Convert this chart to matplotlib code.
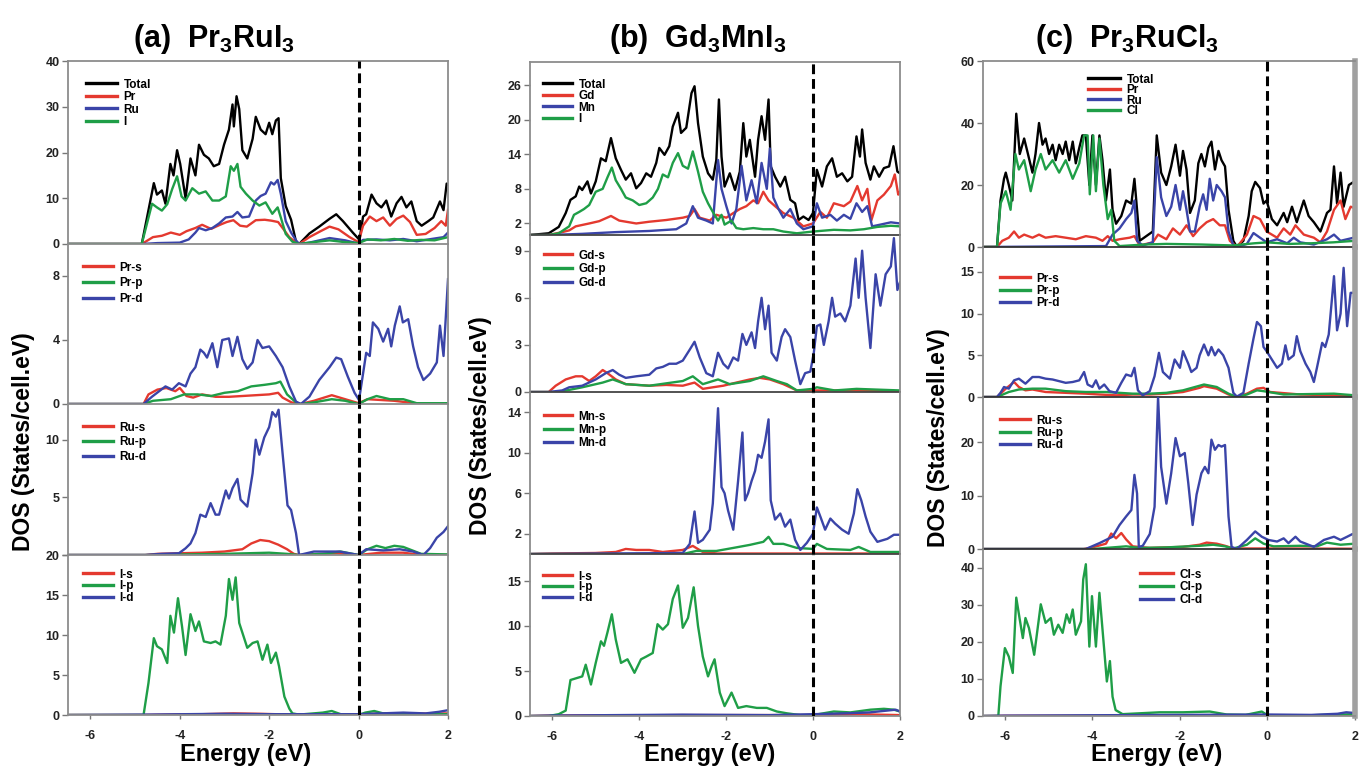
import matplotlib
matplotlib.use("Agg")
import matplotlib.pyplot as plt

plt.rcParams['font.family'] = ['Liberation Sans', 'DejaVu Sans']
plt.rcParams['font.weight'] = 'bold'
plt.rcParams['axes.unicode_minus'] = False
plt.rcParams['mathtext.fontset'] = 'custom'
plt.rcParams['mathtext.rm'] = 'Liberation Sans:bold'
plt.rcParams['mathtext.it'] = 'Liberation Sans:bold'
plt.rcParams['mathtext.bf'] = 'Liberation Sans:bold'

RED, GREEN, BLUE, BLACK = '#e4392f', '#1f9e47', '#3a44a8', '#000000'

# ---------------- (a) Pr3RuI3 : (energy eV, DOS) ----------------
a_total = [(-6.5, 0), (-4.85, 0), (-4.58, 13.3), (-4.51, 10.8), (-4.40, 11.7), (-4.32, 8.8), (-4.21, 17.5),
           (-4.14, 15), (-4.06, 20.5), (-3.99, 17.5), (-3.87, 10), (-3.76, 18.7), (-3.65, 15), (-3.57, 21.7),
           (-3.46, 19.5), (-3.35, 18.7), (-3.24, 17), (-3.12, 17.5), (-3.01, 21.7), (-2.90, 25), (-2.82, 30.5),
           (-2.79, 25.7), (-2.73, 32.3), (-2.67, 29.5), (-2.60, 20.5), (-2.49, 18.7), (-2.37, 23), (-2.30, 27.8),
           (-2.19, 25), (-2.08, 24), (-2.00, 26.5), (-1.93, 24), (-1.85, 27), (-1.79, 27.5), (-1.74, 14.4),
           (-1.63, 8.3), (-1.51, 5.3), (-1.40, 0.5), (-1.33, 0), (-1.10, 2.3), (-0.88, 3.8), (-0.65, 5.5),
           (-0.50, 6.5), (-0.35, 5), (-0.13, 2.5), (0.02, 0.9), (0.10, 6), (0.17, 6.5), (0.29, 10.8), (0.40, 8.9),
           (0.51, 8), (0.62, 9.5), (0.73, 6), (0.85, 8.9), (0.96, 10.3), (1.07, 8), (1.18, 9.3), (1.30, 5),
           (1.41, 4), (1.56, 5), (1.67, 5.8), (1.82, 9.3), (1.90, 7.4), (1.97, 13.2), (2.0, 13)]
a_pr = [(-6.5, 0), (-4.85, 0), (-4.6, 1.5), (-4.4, 1.8), (-4.2, 2.5), (-4.0, 2.0), (-3.85, 2.8), (-3.65, 3.5),
        (-3.5, 4.2), (-3.3, 3.3), (-3.1, 4.2), (-2.95, 4.8), (-2.8, 5.2), (-2.65, 4.0), (-2.5, 3.8), (-2.3, 5.2),
        (-2.1, 5.3), (-1.95, 5.1), (-1.8, 4.8), (-1.7, 3.5), (-1.55, 1.5), (-1.4, 0.3), (-1.33, 0), (-1.1, 1.5),
        (-0.85, 2.8), (-0.65, 3.8), (-0.45, 3.2), (-0.2, 1.5), (0.0, 0.4), (0.1, 4.0), (0.25, 6.0), (0.4, 5.0),
        (0.55, 5.8), (0.7, 4.0), (0.85, 5.5), (1.0, 6.2), (1.15, 4.8), (1.3, 2.0), (1.5, 2.2), (1.7, 3.5),
        (1.85, 5.0), (1.95, 4.0), (2.0, 7.5)]
a_ru = [(-6.5, 0), (-4.85, 0), (-4.5, 0.2), (-4.0, 0.3), (-3.8, 1.0), (-3.65, 2.5), (-3.57, 3.5), (-3.42, 3.0),
        (-3.27, 3.5), (-3.12, 4.5), (-2.97, 5.8), (-2.82, 6.0), (-2.71, 7.0), (-2.60, 5.8), (-2.45, 6.0),
        (-2.30, 9.5), (-2.19, 10.5), (-2.08, 11.0), (-1.96, 13.5), (-1.89, 13.0), (-1.81, 14.0), (-1.74, 11.0),
        (-1.63, 5.0), (-1.51, 2.5), (-1.40, 0.8), (-1.33, 0), (-1.1, 0.3), (-0.65, 1.3), (-0.3, 0.8), (0.0, 0.1),
        (0.1, 0.9), (0.4, 1.0), (0.7, 0.8), (1.0, 1.1), (1.3, 0.6), (1.7, 1.2), (1.9, 1.5), (2.0, 2.5)]
a_i = [(-6.5, 0), (-4.85, 0), (-4.62, 8.8), (-4.51, 8.0), (-4.40, 7.3), (-4.28, 8.7), (-4.17, 12.0), (-4.06, 14.8),
       (-3.96, 10.4), (-3.87, 9.5), (-3.72, 12.2), (-3.57, 11.0), (-3.42, 11.5), (-3.27, 9.5), (-3.12, 9.5),
       (-2.97, 10.4), (-2.86, 17.0), (-2.79, 16.0), (-2.71, 17.5), (-2.64, 12.5), (-2.52, 11.0), (-2.37, 9.5),
       (-2.22, 8.4), (-2.08, 9.1), (-1.93, 6.6), (-1.81, 8.0), (-1.74, 5.8), (-1.63, 2.2), (-1.48, 0.5),
       (-1.33, 0), (-1.1, 0.3), (-0.65, 0.8), (-0.3, 0.4), (0.0, 0.2), (0.2, 1.0), (0.5, 0.8), (0.8, 1.1),
       (1.1, 0.7), (1.4, 0.9), (1.7, 0.8), (2.0, 1.5)]

a_prs = [(-6.5, 0), (-4.81, 0), (-4.7, 0.6), (-4.5, 0.9), (-4.3, 1.0), (-4.1, 0.8), (-4.0, 1.0), (-3.85, 0.5),
         (-3.7, 0.4), (-3.5, 0.6), (-3.2, 0.45), (-2.9, 0.45), (-2.6, 0.5), (-2.3, 0.55), (-2.0, 0.6), (-1.8, 0.7),
         (-1.7, 0.4), (-1.5, 0.1), (-1.3, 0), (-1.0, 0.2), (-0.6, 0.55), (-0.3, 0.3), (0.0, 0.05), (0.2, 0.3),
         (0.5, 0.25), (0.8, 0.2), (1.1, 0.1), (1.4, 0), (2.0, 0)]
a_prp = [(-6.5, 0), (-4.81, 0), (-4.6, 0.2), (-4.2, 0.3), (-3.9, 0.6), (-3.6, 0.6), (-3.3, 0.5), (-3.0, 0.7),
         (-2.7, 0.8), (-2.4, 1.1), (-2.1, 1.2), (-1.85, 1.3), (-1.75, 1.4), (-1.6, 0.6), (-1.4, 0.1), (-1.3, 0),
         (-1.0, 0.1), (-0.6, 0.3), (-0.3, 0.2), (0.0, 0), (0.2, 0.3), (0.4, 0.5), (0.7, 0.3), (1.0, 0.3),
         (1.3, 0.05), (2.0, 0.05)]
a_prd = [(-6.5, 0), (-4.81, 0), (-4.62, 0.46), (-4.32, 1.1), (-4.17, 0.9), (-4.02, 1.3), (-3.87, 1.1), (-3.76, 1.9),
         (-3.65, 2.3), (-3.54, 3.4), (-3.46, 3.2), (-3.39, 2.9), (-3.27, 3.8), (-3.16, 2.3), (-3.05, 4.0),
         (-2.90, 4.1), (-2.82, 3.0), (-2.71, 4.2), (-2.60, 2.8), (-2.49, 2.2), (-2.37, 2.6), (-2.26, 4.0),
         (-2.15, 3.5), (-2.00, 3.6), (-1.85, 3.0), (-1.70, 2.3), (-1.55, 1.1), (-1.40, 0.15), (-1.29, 0),
         (-1.10, 0.46), (-0.88, 1.5), (-0.65, 2.3), (-0.50, 2.9), (-0.39, 2.8), (-0.24, 1.7), (-0.09, 0.7),
         (0.01, 0.25), (0.10, 1.9), (0.17, 3.2), (0.25, 3.0), (0.32, 5.1), (0.44, 4.7), (0.55, 3.9), (0.66, 4.7),
         (0.73, 3.6), (0.81, 4.9), (0.92, 6.1), (0.99, 5.1), (1.11, 5.3), (1.22, 3.6), (1.33, 2.3), (1.45, 1.5),
         (1.60, 1.9), (1.75, 2.6), (1.82, 4.9), (1.90, 3.0), (2.0, 7.8)]

a_rus = [(-6.5, 0), (-4.77, 0), (-4.5, 0.1), (-3.5, 0.2), (-3.0, 0.3), (-2.6, 0.5), (-2.4, 1.0), (-2.2, 1.3),
         (-2.0, 1.2), (-1.8, 0.9), (-1.6, 0.5), (-1.45, 0.1), (-1.33, 0), (-0.8, 0.1), (-0.5, 0.15), (0.0, 0),
         (0.5, 0.2), (1.0, 0.2), (1.3, 0.05), (2.0, 0)]
a_rup = [(-6.5, 0), (-4.77, 0), (-3.0, 0.1), (-2.0, 0.2), (-1.6, 0.1), (-1.33, 0), (-0.8, 0.1), (-0.4, 0.3),
         (0.0, 0), (0.2, 0.5), (0.4, 0.8), (0.6, 0.6), (0.8, 0.8), (1.0, 0.7), (1.2, 0.4), (1.4, 0.1), (2.0, 0.05)]
a_rud = [(-6.5, 0), (-4.77, 0), (-4.4, 0.1), (-4.02, 0.15), (-3.87, 0.58), (-3.76, 1.0), (-3.65, 1.9), (-3.54, 3.5),
         (-3.42, 3.3), (-3.31, 4.5), (-3.20, 3.5), (-3.12, 3.5), (-2.97, 5.6), (-2.90, 4.9), (-2.82, 5.8),
         (-2.71, 6.6), (-2.64, 4.8), (-2.49, 4.2), (-2.37, 7.1), (-2.30, 10.0), (-2.22, 8.7), (-2.11, 10.2),
         (-2.00, 11.1), (-1.93, 12.4), (-1.85, 12.0), (-1.79, 12.6), (-1.70, 8.8), (-1.59, 4.3), (-1.51, 3.9),
         (-1.40, 1.9), (-1.33, 0), (-1.0, 0.3), (-0.73, 0.3), (-0.43, 0.3), (0.0, 0), (0.17, 0.5), (0.55, 0.4),
         (0.92, 0.5), (1.22, 0.3), (1.45, 0), (1.60, 0.6), (1.75, 1.5), (1.9, 2.0), (2.0, 2.5)]

a_is = [(-6.5, 0), (-4.8, 0), (-3.5, 0.1), (-2.8, 0.2), (-2.2, 0.15), (-1.5, 0.05), (0.0, 0.05), (0.5, 0.2),
        (1.0, 0.15), (2.0, 0.2)]
a_ip = [(-6.5, 0), (-4.81, 0), (-4.70, 4.0), (-4.58, 9.6), (-4.51, 8.6), (-4.40, 8.2), (-4.28, 6.5), (-4.21, 12.4),
        (-4.13, 10.3), (-4.04, 14.6), (-3.95, 11.1), (-3.87, 7.5), (-3.76, 12.6), (-3.65, 10.5), (-3.57, 11.7),
        (-3.46, 9.2), (-3.31, 9.0), (-3.20, 9.2), (-3.09, 8.8), (-2.97, 12.4), (-2.90, 17.0), (-2.82, 14.4),
        (-2.75, 17.2), (-2.67, 11.5), (-2.60, 10.3), (-2.49, 8.4), (-2.37, 9.0), (-2.26, 9.2), (-2.15, 6.9),
        (-2.04, 8.8), (-1.96, 6.5), (-1.85, 7.8), (-1.78, 6.1), (-1.66, 2.3), (-1.55, 0.8), (-1.48, 0.2),
        (-1.33, 0.05), (-0.8, 0.3), (-0.6, 0.5), (-0.4, 0.1), (0.0, 0), (0.15, 0.3), (0.35, 0.5), (0.55, 0.2),
        (0.8, 0.1), (2.0, 0.1)]
a_id = [(-6.5, 0), (-4.8, 0.05), (-3.0, 0.15), (-2.0, 0.1), (0.0, 0.1), (1.0, 0.3), (1.5, 0.2), (1.8, 0.4),
        (2.0, 0.6)]

# ---------------- (b) Gd3MnI3 ----------------
b_total = [(-6.5, 0), (-6.07, 0.3), (-5.84, 1.4), (-5.68, 3.8), (-5.57, 6.1), (-5.45, 6.7), (-5.37, 8.4),
           (-5.30, 7.8), (-5.18, 9.3), (-5.10, 7.2), (-4.99, 9.3), (-4.87, 13.3), (-4.76, 12.8), (-4.64, 16.8),
           (-4.53, 13.3), (-4.41, 11.3), (-4.30, 9.6), (-4.18, 10.7), (-4.06, 8.1), (-3.95, 9.0), (-3.83, 10.7),
           (-3.72, 10.1), (-3.60, 12.5), (-3.53, 15.1), (-3.41, 13.9), (-3.30, 15.4), (-3.22, 18.8), (-3.10, 21.2),
           (-3.03, 17.7), (-2.91, 18.6), (-2.79, 24.6), (-2.72, 25.8), (-2.64, 19.4), (-2.53, 13.6), (-2.41, 10.7),
           (-2.30, 9.6), (-2.22, 13.0), (-2.16, 23.5), (-2.10, 13.6), (-2.03, 8.4), (-1.91, 10.7), (-1.79, 7.8),
           (-1.68, 11.0), (-1.60, 19.4), (-1.53, 13.6), (-1.45, 16.5), (-1.33, 10.1), (-1.26, 16.5), (-1.18, 20.6),
           (-1.10, 16.5), (-1.02, 23.5), (-0.97, 11.9), (-0.87, 10.1), (-0.75, 8.4), (-0.64, 10.1), (-0.52, 6.1),
           (-0.41, 5.5), (-0.33, 2.6), (-0.22, 3.2), (-0.10, 2.6), (0.0, 3.8), (0.09, 11.3), (0.21, 8.4),
           (0.32, 11.9), (0.44, 13.3), (0.55, 10.1), (0.67, 10.7), (0.79, 9.3), (0.90, 10.1), (1.00, 17.1),
           (1.08, 13.6), (1.13, 18.3), (1.21, 12.5), (1.32, 9.6), (1.40, 11.9), (1.52, 10.1), (1.63, 11.6),
           (1.75, 11.9), (1.85, 15.4), (1.94, 11.0), (2.0, 10.7)]
b_gd = [(-6.5, 0), (-6.07, 0), (-5.76, 0.5), (-5.6, 0.8), (-5.45, 1.5), (-5.14, 2.0), (-4.91, 2.4), (-4.64, 3.3),
        (-4.45, 2.5), (-4.06, 2.0), (-3.76, 2.3), (-3.37, 2.6), (-2.99, 3.0), (-2.83, 3.3), (-2.72, 4.5),
        (-2.60, 3.0), (-2.37, 2.5), (-2.22, 3.5), (-1.99, 3.0), (-1.83, 3.8), (-1.68, 4.5), (-1.53, 5.0),
        (-1.37, 6.0), (-1.26, 5.5), (-1.14, 7.5), (-1.02, 6.0), (-0.87, 5.0), (-0.68, 3.8), (-0.45, 3.0),
        (-0.22, 1.5), (0.0, 2.0), (0.17, 4.0), (0.32, 3.0), (0.48, 5.5), (0.71, 5.0), (0.86, 5.8), (1.02, 8.5),
        (1.13, 6.0), (1.25, 8.0), (1.34, 2.5), (1.48, 6.0), (1.63, 7.0), (1.79, 8.5), (1.88, 10.5), (1.96, 7.0),
        (2.0, 7.5)]
b_mn = [(-6.5, 0), (-6.07, 0), (-5.30, 0.2), (-4.53, 0.5), (-3.76, 0.7), (-3.14, 1.0), (-2.91, 2.0), (-2.76, 5.0),
        (-2.64, 3.0), (-2.45, 2.5), (-2.30, 2.0), (-2.18, 13.0), (-2.10, 8.0), (-1.99, 5.0), (-1.87, 2.0),
        (-1.76, 4.5), (-1.64, 12.0), (-1.53, 6.0), (-1.41, 9.5), (-1.29, 5.5), (-1.18, 12.5), (-1.06, 8.0),
        (-0.99, 15.0), (-0.91, 6.5), (-0.79, 4.5), (-0.68, 3.0), (-0.52, 4.5), (-0.37, 2.0), (-0.22, 1.0),
        (0.0, 1.5), (0.09, 5.5), (0.21, 3.0), (0.40, 3.5), (0.55, 2.5), (0.71, 3.5), (0.86, 2.8), (1.00, 5.5),
        (1.13, 4.0), (1.25, 5.0), (1.36, 1.5), (1.55, 1.8), (1.79, 2.2), (2.0, 2.0)]
b_i = [(-6.5, 0), (-6.07, 0), (-5.84, 0.3), (-5.6, 1.5), (-5.49, 3.5), (-5.37, 4.0), (-5.26, 4.5), (-5.14, 5.2),
       (-4.99, 7.5), (-4.83, 8.0), (-4.72, 10.0), (-4.62, 11.7), (-4.53, 9.5), (-4.41, 8.0), (-4.30, 6.5),
       (-4.14, 6.0), (-3.99, 5.2), (-3.83, 5.5), (-3.68, 6.5), (-3.56, 8.0), (-3.45, 10.5), (-3.33, 10.0),
       (-3.22, 12.5), (-3.10, 14.2), (-2.99, 12.0), (-2.87, 11.5), (-2.76, 14.5), (-2.64, 11.0), (-2.53, 7.5),
       (-2.41, 5.5), (-2.30, 4.0), (-2.18, 2.5), (-2.10, 3.5), (-2.03, 1.8), (-1.87, 2.5), (-1.76, 1.2),
       (-1.60, 1.0), (-1.37, 1.2), (-1.14, 1.0), (-0.91, 1.0), (-0.68, 0.6), (-0.37, 0.3), (0.0, 0.6),
       (0.48, 0.9), (0.86, 0.8), (1.17, 1.0), (1.48, 1.4), (1.79, 1.6), (2.0, 1.5)]

b_gds = [(-6.5, 0), (-6.07, 0), (-5.91, 0.4), (-5.68, 0.8), (-5.45, 1.0), (-5.30, 1.0), (-5.14, 0.7), (-4.99, 1.0),
         (-4.83, 1.4), (-4.72, 1.2), (-4.53, 0.8), (-4.30, 0.5), (-3.76, 0.4), (-3.37, 0.45), (-2.99, 0.4),
         (-2.72, 0.6), (-2.53, 0.2), (-2.30, 0.3), (-2.06, 0.4), (-1.76, 0.6), (-1.45, 0.8), (-1.22, 0.9),
         (-0.99, 0.8), (-0.68, 0.5), (-0.37, 0.1), (0.0, 0.1), (1.0, 0.1), (2.0, 0.05)]
b_gdp = [(-6.5, 0), (-5.84, 0), (-5.30, 0.3), (-4.83, 0.6), (-4.60, 0.8), (-4.30, 0.5), (-3.76, 0.4), (-2.99, 0.7),
         (-2.76, 1.0), (-2.53, 0.5), (-2.18, 0.8), (-1.91, 0.5), (-1.45, 0.7), (-1.14, 1.0), (-0.83, 0.7),
         (-0.60, 0.5), (-0.37, 0.1), (0.0, 0.2), (0.09, 0.3), (0.5, 0.1), (1.0, 0.2), (2.0, 0.1)]
b_gdd = [(-6.5, 0), (-6.07, 0), (-5.76, 0.1), (-5.6, 0.3), (-5.30, 0.4), (-4.99, 0.8), (-4.76, 1.2), (-4.60, 1.4),
         (-4.45, 1.1), (-4.30, 0.9), (-4.06, 1.0), (-3.76, 1.1), (-3.60, 1.5), (-3.45, 1.6), (-3.30, 1.8),
         (-3.14, 1.8), (-2.99, 2.0), (-2.83, 2.7), (-2.72, 3.2), (-2.60, 2.2), (-2.45, 1.2), (-2.30, 1.0),
         (-2.18, 2.5), (-2.06, 1.8), (-1.95, 1.5), (-1.83, 2.2), (-1.72, 2.0), (-1.62, 3.7), (-1.53, 3.0),
         (-1.41, 3.8), (-1.33, 2.8), (-1.26, 4.5), (-1.18, 6.0), (-1.10, 4.0), (-1.02, 5.5), (-0.95, 2.5),
         (-0.83, 2.0), (-0.72, 3.5), (-0.64, 4.0), (-0.52, 3.5), (-0.41, 2.0), (-0.29, 0.5), (-0.18, 1.2),
         (-0.06, 1.3), (0.02, 2.5), (0.09, 4.2), (0.17, 4.3), (0.25, 3.0), (0.36, 4.5), (0.44, 6.0), (0.51, 4.8),
         (0.63, 5.0), (0.74, 4.5), (0.86, 5.5), (0.98, 8.5), (1.05, 6.0), (1.13, 9.0), (1.21, 6.0), (1.32, 2.8),
         (1.44, 7.5), (1.55, 5.5), (1.67, 7.5), (1.79, 8.0), (1.86, 9.8), (1.94, 6.5), (2.0, 7.0)]

b_mns = [(-6.5, 0), (-6.0, 0.05), (-5.0, 0.1), (-4.53, 0.2), (-4.30, 0.5), (-4.06, 0.4), (-3.76, 0.4), (-3.45, 0.2),
         (-2.99, 0.4), (-2.76, 0.8), (-2.53, 0.2), (-2.2, 0.05), (2.0, 0.05)]
b_mnp = [(-6.5, 0), (-2.99, 0), (-2.68, 0.3), (-2.22, 0.3), (-1.83, 0.6), (-1.45, 0.9), (-1.14, 1.2), (-1.02, 1.7),
         (-0.91, 1.0), (-0.68, 1.0), (-0.37, 0.6), (0.0, 0.5), (0.09, 1.0), (0.32, 0.5), (0.86, 0.4), (1.05, 0.7),
         (1.32, 0.2), (2.0, 0.2)]
b_mnd = [(-6.5, 0), (-2.99, 0.1), (-2.83, 1.0), (-2.72, 4.2), (-2.64, 1.1), (-2.53, 1.4), (-2.37, 2.4), (-2.30, 5.0),
         (-2.18, 14.4), (-2.10, 6.6), (-2.03, 6.0), (-1.95, 4.3), (-1.83, 2.4), (-1.72, 7.2), (-1.62, 12.0),
         (-1.56, 5.3), (-1.49, 6.0), (-1.41, 7.2), (-1.33, 8.2), (-1.26, 9.8), (-1.18, 9.5), (-1.10, 11.1),
         (-1.02, 13.3), (-0.97, 5.3), (-0.87, 3.4), (-0.75, 4.0), (-0.64, 2.7), (-0.52, 3.4), (-0.41, 1.4),
         (-0.29, 0.4), (-0.14, 1.1), (0.0, 2.0), (0.09, 4.6), (0.17, 3.7), (0.28, 2.4), (0.40, 3.5), (0.51, 3.0),
         (0.67, 2.4), (0.82, 2.0), (0.94, 4.0), (1.02, 6.4), (1.11, 5.3), (1.21, 3.7), (1.32, 2.2), (1.48, 1.2),
         (1.71, 1.5), (1.86, 1.9), (2.0, 1.9)]

b_is = [(-6.5, 0), (-6.0, 0.05), (-3.0, 0.1), (-1.0, 0.1), (0.0, 0.1), (1.0, 0.2), (2.0, 0.1)]
b_ip = [(-6.5, 0), (-6.07, 0), (-5.84, 0.2), (-5.68, 0.6), (-5.57, 4.0), (-5.30, 4.4), (-5.22, 5.7), (-5.10, 3.5),
        (-4.99, 5.9), (-4.87, 8.3), (-4.80, 7.8), (-4.72, 9.3), (-4.62, 11.3), (-4.53, 8.5), (-4.41, 5.9),
        (-4.26, 6.3), (-4.10, 4.8), (-3.95, 6.3), (-3.83, 6.6), (-3.68, 7.0), (-3.57, 10.2), (-3.45, 9.6),
        (-3.33, 10.2), (-3.22, 13.0), (-3.10, 14.5), (-2.99, 9.8), (-2.87, 10.9), (-2.74, 14.3), (-2.64, 10.0),
        (-2.53, 6.6), (-2.41, 4.4), (-2.33, 5.5), (-2.26, 6.3), (-2.14, 2.6), (-2.03, 1.1), (-1.87, 2.6),
        (-1.72, 0.9), (-1.53, 1.1), (-1.29, 0.9), (-1.06, 0.9), (-0.83, 0.5), (-0.60, 0.3), (-0.29, 0.1),
        (0.0, 0.1), (0.48, 0.5), (0.86, 0.4), (1.32, 0.7), (1.63, 0.8), (1.86, 0.7), (2.0, 0.5)]
b_id = [(-6.5, 0), (-6.0, 0.05), (-3.0, 0.15), (-1.0, 0.1), (0.0, 0.2), (0.8, 0.3), (1.3, 0.4), (1.7, 0.6),
        (1.9, 0.7), (2.0, 0.5)]

# ---------------- (c) Pr3RuCl3 ----------------
c_total = [(-6.5, 0), (-6.18, 0), (-6.10, 15), (-6.02, 22), (-5.98, 24), (-5.91, 20), (-5.83, 15), (-5.74, 43),
           (-5.66, 30), (-5.56, 35), (-5.49, 31), (-5.37, 24), (-5.30, 30), (-5.22, 40), (-5.14, 33), (-5.07, 35),
           (-4.99, 30), (-4.91, 33), (-4.84, 28), (-4.76, 33), (-4.68, 30), (-4.61, 34), (-4.53, 28), (-4.45, 34),
           (-4.38, 27), (-4.30, 32), (-4.23, 36), (-4.15, 36), (-4.07, 20), (-4.00, 36), (-3.92, 20), (-3.84, 36),
           (-3.77, 28), (-3.69, 15), (-3.60, 25), (-3.54, 12), (-3.46, 7.5), (-3.34, 10), (-3.23, 15), (-3.11, 14),
           (-3.04, 22), (-2.98, 12), (-2.92, 2), (-2.77, 3.5), (-2.62, 5), (-2.53, 36), (-2.43, 24), (-2.31, 20),
           (-2.20, 26), (-2.10, 33), (-2.00, 23), (-1.93, 31), (-1.85, 25), (-1.77, 11), (-1.66, 15), (-1.58, 27),
           (-1.51, 30), (-1.43, 26), (-1.35, 32), (-1.28, 34), (-1.20, 25), (-1.12, 31), (-1.05, 28), (-0.97, 26),
           (-0.89, 12), (-0.78, 2), (-0.70, 0), (-0.55, 2), (-0.43, 10), (-0.36, 18), (-0.28, 21), (-0.17, 19),
           (-0.09, 14), (-0.02, 15), (0.10, 9), (0.22, 7), (0.37, 11), (0.45, 8), (0.56, 13), (0.67, 8), (0.83, 15),
           (0.94, 10), (1.06, 8), (1.21, 5), (1.36, 11), (1.44, 12), (1.52, 26), (1.59, 14), (1.67, 24), (1.74, 13),
           (1.86, 20), (1.97, 21), (2.0, 20)]
c_pr = [(-6.5, 0), (-6.18, 0), (-6.06, 2), (-5.91, 3), (-5.79, 5), (-5.68, 3), (-5.56, 4), (-5.37, 3), (-5.22, 4),
        (-5.07, 3), (-4.84, 3.5), (-4.61, 3), (-4.38, 2.5), (-4.15, 3.5), (-3.92, 3), (-3.77, 2), (-3.65, 3.5),
        (-3.54, 2), (-3.38, 2.5), (-3.15, 3), (-3.04, 3.5), (-2.92, 0.5), (-2.62, 1.5), (-2.50, 4), (-2.31, 2.5),
        (-2.16, 6), (-2.00, 4), (-1.85, 7), (-1.70, 3.5), (-1.55, 6), (-1.39, 8), (-1.24, 9), (-1.09, 7),
        (-0.97, 7), (-0.86, 2), (-0.70, 0), (-0.47, 4), (-0.32, 10), (-0.17, 9), (-0.02, 5), (0.22, 3), (0.37, 6),
        (0.52, 4), (0.64, 7), (0.83, 4), (1.06, 3), (1.21, 1.5), (1.36, 5), (1.52, 12), (1.67, 15), (1.78, 9),
        (1.90, 13), (2.0, 12.5)]
c_ru = [(-6.5, 0), (-3.69, 0.3), (-3.54, 4), (-3.38, 6), (-3.23, 9), (-3.11, 11), (-3.04, 15), (-2.98, 2),
        (-2.85, 0.5), (-2.62, 1.5), (-2.53, 29), (-2.43, 16), (-2.31, 10), (-2.20, 13), (-2.10, 20), (-2.00, 12),
        (-1.93, 18), (-1.85, 12), (-1.77, 5), (-1.66, 5), (-1.55, 13), (-1.47, 17), (-1.39, 12), (-1.32, 22),
        (-1.24, 15), (-1.16, 20), (-1.05, 18), (-0.97, 16), (-0.89, 5), (-0.78, 0.5), (-0.70, 0), (-0.47, 1),
        (-0.32, 4.5), (-0.17, 3), (-0.02, 1.5), (0.22, 2.5), (0.45, 1.2), (0.60, 3), (0.75, 1.5), (1.06, 0.8),
        (1.36, 2.5), (1.52, 4), (1.67, 2), (1.97, 3), (2.0, 3)]
c_cl = [(-6.5, 0), (-6.18, 0), (-6.10, 14), (-5.98, 18), (-5.87, 12), (-5.76, 30), (-5.68, 25), (-5.56, 28),
        (-5.41, 18), (-5.30, 25), (-5.18, 30), (-5.07, 25), (-4.91, 28), (-4.76, 24), (-4.61, 28), (-4.45, 22),
        (-4.30, 27), (-4.19, 36), (-4.11, 36), (-4.06, 17), (-3.98, 36), (-3.92, 18), (-3.84, 35), (-3.75, 20),
        (-3.65, 9), (-3.57, 12), (-3.50, 2), (-3.38, 0.3), (-2.8, 0.8), (-2.31, 1.0), (-1.5, 0.8), (-0.8, 0.5),
        (-0.3, 1.2), (0.0, 1.5), (0.5, 1.0), (1.0, 1.2), (1.5, 1.5), (2.0, 2.0)]

c_prs = [(-6.5, 0), (-6.18, 0), (-5.98, 1.0), (-5.79, 1.8), (-5.68, 1.2), (-5.53, 0.8), (-5.37, 0.9), (-5.07, 0.6),
         (-4.61, 0.5), (-4.15, 0.4), (-3.84, 0.3), (-3.46, 0.2), (-3.08, 0.3), (-2.69, 0.3), (-2.31, 0.4),
         (-1.93, 0.6), (-1.55, 1.1), (-1.45, 1.3), (-1.16, 1.0), (-0.89, 0.3), (-0.70, 0), (-0.47, 0.4),
         (-0.24, 1.0), (-0.09, 1.1), (0.06, 0.6), (0.75, 0.3), (1.52, 0.2), (2.0, 0.1)]
c_prp = [(-6.5, 0), (-6.18, 0), (-5.91, 0.6), (-5.68, 0.9), (-5.37, 1.0), (-5.07, 1.0), (-4.61, 0.7), (-4.15, 0.6),
         (-3.69, 0.6), (-3.08, 0.4), (-2.69, 0.4), (-2.31, 0.5), (-1.93, 0.8), (-1.45, 1.5), (-1.16, 1.2),
         (-0.89, 0.4), (-0.70, 0), (-0.47, 0.3), (-0.24, 0.8), (-0.09, 0.7), (0.37, 0.3), (1.52, 0.4), (2.0, 0.2)]
c_prd = [(-6.5, 0), (-6.18, 0), (-6.10, 0.5), (-6.02, 1.2), (-5.91, 1.0), (-5.79, 2.0), (-5.68, 2.2), (-5.53, 1.6),
         (-5.37, 2.4), (-5.22, 2.4), (-5.07, 2.2), (-4.91, 2.1), (-4.76, 1.9), (-4.61, 1.7), (-4.45, 1.8),
         (-4.30, 2.0), (-4.19, 3.0), (-4.11, 1.5), (-4.00, 1.2), (-3.92, 2.0), (-3.84, 1.0), (-3.73, 1.5),
         (-3.61, 0.7), (-3.46, 0.5), (-3.34, 1.7), (-3.23, 2.7), (-3.11, 2.5), (-3.04, 3.5), (-2.96, 0.8),
         (-2.85, 0.2), (-2.69, 0.7), (-2.58, 2.5), (-2.48, 5.3), (-2.39, 3.0), (-2.23, 2.2), (-2.12, 4.5),
         (-2.00, 3.5), (-1.93, 5.5), (-1.81, 4.0), (-1.74, 3.0), (-1.62, 3.5), (-1.55, 5.0), (-1.45, 6.3),
         (-1.35, 5.0), (-1.28, 6.0), (-1.20, 5.0), (-1.12, 5.7), (-1.01, 5.0), (-0.89, 3.5), (-0.78, 0.5),
         (-0.70, 0.05), (-0.55, 0.5), (-0.43, 4.0), (-0.32, 7.0), (-0.24, 9.0), (-0.15, 8.5), (-0.09, 6.0),
         (-0.02, 5.5), (0.10, 4.5), (0.22, 3.5), (0.33, 4.0), (0.41, 6.2), (0.48, 4.5), (0.60, 5.0), (0.67, 7.3),
         (0.75, 5.5), (0.87, 4.0), (0.98, 3.0), (1.06, 1.8), (1.13, 3.5), (1.25, 6.5), (1.32, 6.0), (1.40, 7.5),
         (1.52, 14.5), (1.59, 8.0), (1.67, 10.0), (1.74, 15.5), (1.82, 8.5), (1.90, 12.5), (2.0, 12.5)]

c_rus = [(-6.5, 0), (-4.2, 0), (-4.0, 0.3), (-3.69, 1.0), (-3.57, 2.9), (-3.46, 2.0), (-3.34, 3.0), (-3.23, 1.8),
         (-3.08, 0.5), (-2.69, 0.2), (-2.31, 0.3), (-1.93, 0.4), (-1.55, 0.8), (-1.39, 1.2), (-1.16, 1.0),
         (-0.97, 0.6), (-0.78, 0.1), (-0.4, 0.1), (0.0, 0.1), (2.0, 0.05)]
c_rup = [(-6.5, 0), (-4.0, 0), (-3.69, 0.2), (-3.23, 0.5), (-2.92, 0.2), (-2.31, 0.3), (-1.55, 0.6), (-1.24, 0.8),
         (-0.97, 0.5), (-0.78, 0.1), (-0.47, 0.8), (-0.28, 2.0), (-0.09, 1.0), (0.14, 0.5), (0.75, 0.6),
         (1.13, 0.5), (1.36, 1.2), (1.67, 0.8), (2.0, 1.0)]
c_rud = [(-6.5, 0), (-4.15, 0), (-3.84, 1.1), (-3.69, 1.7), (-3.54, 2.3), (-3.38, 4.5), (-3.23, 6.1), (-3.11, 7.3),
         (-3.04, 13.9), (-2.98, 10.4), (-2.94, 0.4), (-2.85, 0.6), (-2.69, 2.8), (-2.58, 7.9), (-2.50, 28.5),
         (-2.43, 15.4), (-2.31, 8.5), (-2.20, 14.2), (-2.10, 20.8), (-2.00, 17.4), (-1.89, 18.0), (-1.81, 12.4),
         (-1.71, 4.5), (-1.62, 10.2), (-1.51, 14.2), (-1.43, 15.4), (-1.35, 14.2), (-1.28, 20.5), (-1.20, 18.6),
         (-1.12, 19.5), (-1.05, 19.2), (-0.97, 19.5), (-0.89, 6.1), (-0.82, 0.4), (-0.70, 0), (-0.47, 1.7),
         (-0.28, 3.3), (-0.13, 2.3), (0.02, 1.7), (0.22, 1.4), (0.37, 2.0), (0.48, 1.1), (0.64, 2.3), (0.75, 1.4),
         (1.06, 0.4), (1.29, 1.7), (1.52, 2.3), (1.67, 1.7), (1.82, 2.3), (1.94, 2.8), (2.0, 2.7)]

c_cls = [(-6.5, 0), (-6.0, 0.05), (0.0, 0.05), (2.0, 0.1)]
c_clp = [(-6.5, 0), (-6.15, 0), (-6.10, 8), (-6.00, 18.3), (-5.91, 16), (-5.82, 11.6), (-5.74, 31.9), (-5.66, 26),
         (-5.59, 21), (-5.53, 26.4), (-5.45, 23.7), (-5.33, 16.5), (-5.18, 30.1), (-5.07, 25.1), (-4.95, 26.4),
         (-4.88, 21.9), (-4.78, 24.6), (-4.68, 22.4), (-4.59, 27.4), (-4.52, 25.1), (-4.45, 28.7), (-4.38, 21.9),
         (-4.26, 25.5), (-4.21, 36.8), (-4.15, 40.9), (-4.07, 18.7), (-4.01, 32.3), (-3.92, 18.7), (-3.84, 33.2),
         (-3.75, 20.6), (-3.67, 9.3), (-3.60, 14.8), (-3.54, 5.2), (-3.47, 1.6), (-3.31, 0.5), (-2.46, 1.0),
         (-1.93, 1.0), (-1.32, 1.2), (-0.93, 0.4), (-0.5, 0.3), (-0.13, 1.2), (0.0, 0.2), (1.0, 0.2), (2.0, 0.5)]
c_cld = [(-6.5, 0), (-6.0, 0.1), (-4.0, 0.2), (-2.0, 0.3), (0.0, 0.4), (1.0, 0.3), (1.6, 0.6), (1.8, 1.0), (2.0, 0.8)]

xticks = [-6, -4, -2, 0, 2]
titles = [r'(a)  Pr$_3$RuI$_3$', r'(b)  Gd$_3$MnI$_3$', r'(c)  Pr$_3$RuCl$_3$']

# ---------------- layout (pixels of the 1359x772 canvas) ----------------
W, H = 1359, 772
fig = plt.figure(figsize=(W / 100, H / 100), dpi=100)
LEG_FS = 8.5
FS_PX = LEG_FS * 100 / 72


def add_panel(x0, x1, y0, y1):
    return fig.add_axes([x0 / W, 1 - y1 / H, (x1 - x0) / W, (y1 - y0) / H], facecolor='none')


def draw_panel(ax, curves, labels, colors, ylim, yticks, ylabels, leg, sep, top, bottom):
    for pts, lab, col in zip(curves, labels, colors):
        e, d = zip(*pts)
        ax.plot(e, d, color=col, lw=1.7, label=lab, solid_joinstyle='round')
    ax.axvline(0, color='black', lw=2.2, ls=(0, (3.2, 1.6)), zorder=5)
    ax.set_xlim(-6.5, 2)
    ax.set_ylim(*ylim)
    ax.set_yticks(yticks)
    ax.set_yticklabels(ylabels, fontweight='bold')
    ax.tick_params(axis='y', direction='out', length=4, width=1, color='#777', labelsize=9,
                   pad=2, labelcolor='#222')
    if bottom:
        ax.set_xticks(xticks)
        ax.set_xticklabels([str(t) for t in xticks], fontweight='bold')
        ax.tick_params(axis='x', direction='out', length=3, width=1, color='#777', labelsize=9,
                       pad=8, labelcolor='#222')
    else:
        ax.tick_params(axis='x', bottom=False, labelbottom=False)
    for s in ax.spines.values():
        s.set_color('#8c8c8c')
        s.set_linewidth(1.3)
    if not top:
        ax.spines['top'].set_visible(False)
    if not bottom:
        ax.spines['bottom'].set_color(sep)
    lx, ly, pitch, hpx = leg
    lg = ax.legend(loc='upper left', bbox_to_anchor=(lx / W, 1 - (ly - 0.56 * FS_PX * 1.12) / H),
                   bbox_transform=fig.transFigure, frameon=False, borderpad=0, borderaxespad=0,
                   handlelength=hpx / FS_PX, handletextpad=0.55,
                   labelspacing=(pitch - 1.12 * FS_PX) / FS_PX,
                   prop={'weight': 'bold', 'size': LEG_FS})
    for h in lg.legend_handles:
        h.set_linewidth(2.4)
    return ax


columns = [
    dict(x=(68, 448), rows=(61, 244, 404, 555, 715), sep='#8c8c8c', title_x=214, ylab_x=24, ylab_y=442,
         xlab_x=246,
         panels=[
             ([a_total, a_pr, a_ru, a_i], ['Total', 'Pr', 'Ru', 'I'], [BLACK, RED, BLUE, GREEN], (0, 40),
              [0, 10, 20, 30, 40], ['0', '10', '20', '30', '40'], (86, 86, 13.7, 31)),
             ([a_prs, a_prp, a_prd], ['Pr-s', 'Pr-p', 'Pr-d'], [RED, GREEN, BLUE], (0, 10),
              [0, 4, 8], ['0', '4', '8'], (83, 269, 17, 30)),
             ([a_rus, a_rup, a_rud], ['Ru-s', 'Ru-p', 'Ru-d'], [RED, GREEN, BLUE], (0, 13.1),
              [0, 5, 10], ['', '5', '10'], (83, 429, 16, 30)),
             ([a_is, a_ip, a_id], ['I-s', 'I-p', 'I-d'], [RED, GREEN, BLUE], (0, 20),
              [0, 5, 10, 15, 20], ['0', '5', '10', '15', '20'], (83, 576, 13, 30)),
         ]),
    dict(x=(530, 900), rows=(62, 235, 392, 554, 716), sep='#444444', title_x=698, ylab_x=481, ylab_y=426,
         xlab_x=710,
         panels=[
             ([b_total, b_gd, b_mn, b_i], ['Total', 'Gd', 'Mn', 'I'], [BLACK, RED, BLUE, GREEN], (0, 30),
              [2, 8, 14, 20, 26], ['2', '8', '14', '20', '26'], (543, 86, 12.7, 29)),
             ([b_gds, b_gdp, b_gdd], ['Gd-s', 'Gd-p', 'Gd-d'], [RED, GREEN, BLUE], (0, 10),
              [0, 3, 6, 9], ['0', '3', '6', '9'], (544, 257, 15, 28)),
             ([b_mns, b_mnp, b_mnd], ['Mn-s', 'Mn-p', 'Mn-d'], [RED, GREEN, BLUE], (0, 16),
              [2, 6, 10, 14], ['2', '6', '10', '14'], (544, 418, 14.5, 28)),
             ([b_is, b_ip, b_id], ['I-s', 'I-p', 'I-d'], [RED, GREEN, BLUE], (0, 18),
              [0, 5, 10, 15], ['0', '5', '10', '15'], (543, 578, 12, 29)),
         ]),
    dict(x=(983, 1355), rows=(61, 247, 397, 549, 716), sep='#333333', title_x=1127, ylab_x=938, ylab_y=438,
         xlab_x=1157,
         panels=[
             ([c_total, c_pr, c_ru, c_cl], ['Total', 'Pr', 'Ru', 'Cl'], [BLACK, RED, BLUE, GREEN], (0, 60),
              [0, 20, 40, 60], ['0', '20', '40', '60'], (1088, 81, 11.7, 32)),
             ([c_prs, c_prp, c_prd], ['Pr-s', 'Pr-p', 'Pr-d'], [RED, GREEN, BLUE], (0, 18),
              [0, 5, 10, 15], ['0', '5', '10', '15'], (1000, 280, 13.5, 30)),
             ([c_rus, c_rup, c_rud], ['Ru-s', 'Ru-p', 'Ru-d'], [RED, GREEN, BLUE], (0, 28.5),
              [0, 10, 20], ['0', '10', '20'], (1000, 422, 13.5, 30)),
             ([c_cls, c_clp, c_cld], ['Cl-s', 'Cl-p', 'Cl-d'], [RED, GREEN, BLUE], (0, 45),
              [0, 10, 20, 30, 40], ['0', '10', '20', '30', '40'], (1140, 576, 14, 33)),
         ]),
]

for ci, col in enumerate(columns):
    x0, x1 = col['x']
    rows = col['rows']
    for pi, spec in enumerate(col['panels']):
        ax = add_panel(x0, x1, rows[pi], rows[pi + 1])
        draw_panel(ax, *spec, sep=col['sep'], top=(pi == 0), bottom=(pi == 3))
        if ci == 2:
            ax.spines['right'].set_linewidth(4)
            ax.spines['right'].set_color('#a0a0a0')
    fig.text(col['title_x'] / W, 1 - 47 / H, titles[ci], ha='center', va='baseline', fontsize=22,
             fontweight='bold')
    fig.text(col['ylab_x'] / W, 1 - col['ylab_y'] / H, 'DOS (States/cell.eV)', rotation=90,
             ha='center', va='center', fontsize=16.5, fontweight='bold')
    fig.text(col['xlab_x'] / W, 1 - 755 / H, 'Energy (eV)', ha='center', va='center', fontsize=17,
             fontweight='bold')

fig.savefig('out.png', dpi=100)
